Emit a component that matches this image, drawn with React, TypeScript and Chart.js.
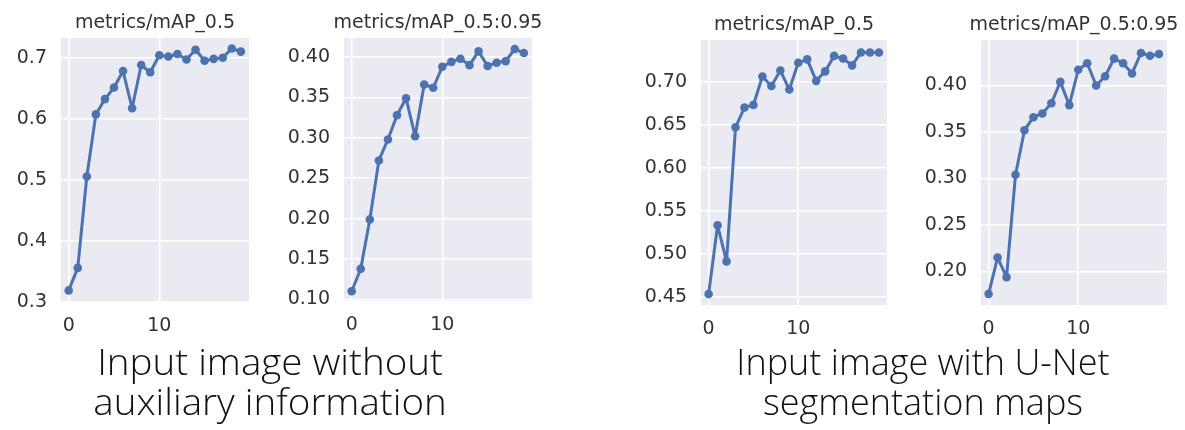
import React, { useEffect, useRef } from "react";
import { Chart, registerables } from "chart.js";

Chart.register(...registerables);

// ---- data ----
const epochs = [0, 1, 2, 3, 4, 5, 6, 7, 8, 9, 10, 11, 12, 13, 14, 15, 16, 17, 18, 19];

const mapNoAux = [0.319, 0.356, 0.506, 0.608, 0.633, 0.652, 0.679, 0.618, 0.689, 0.677, 0.705, 0.703, 0.707, 0.698, 0.714, 0.696, 0.699, 0.701, 0.716, 0.711];
const map95NoAux = [0.110, 0.138, 0.199, 0.272, 0.298, 0.328, 0.349, 0.302, 0.366, 0.362, 0.388, 0.394, 0.398, 0.390, 0.407, 0.389, 0.393, 0.395, 0.410, 0.405];
const mapUNet = [0.453, 0.533, 0.491, 0.647, 0.670, 0.673, 0.706, 0.695, 0.713, 0.691, 0.722, 0.726, 0.701, 0.712, 0.730, 0.727, 0.719, 0.734, 0.734, 0.734];
const map95UNet = [0.176, 0.215, 0.194, 0.304, 0.352, 0.366, 0.370, 0.381, 0.404, 0.379, 0.417, 0.424, 0.400, 0.410, 0.429, 0.424, 0.413, 0.435, 0.432, 0.434];

const xTicks = [0, 10];
const yTicksA = [0.3, 0.4, 0.5, 0.6, 0.7];
const yTicksB = [0.10, 0.15, 0.20, 0.25, 0.30, 0.35, 0.40];
const yTicksC = [0.45, 0.50, 0.55, 0.60, 0.65, 0.70];
const yTicksD = [0.20, 0.25, 0.30, 0.35, 0.40];

const titleA = "metrics/mAP_0.5";
const titleB = "metrics/mAP_0.5:0.95";

const captionLeft = ["Input image without", "auxiliary information"];
const captionRight = ["Input image with U-Net", "segmentation maps"];

// ---- styling / layout ----
const LINE = "#4C72B0";
const BG = "#EAEAF2";
const TXT = "#333333";
const FONT = "DejaVu Sans";
const YAXIS_W = 60;
const XAXIS_H = 38;
const PAD_R = 14;

type PanelCfg = {
  title: string;
  titleBase: number;
  values: number[];
  yTicks: number[];
  decimals: number;
  yMin: number;
  yMax: number;
  plot: { l: number; r: number; t: number; b: number };
};

const panels: PanelCfg[] = [
  { title: titleA, titleBase: 27.5, values: mapNoAux, yTicks: yTicksA, decimals: 1, yMin: 0.30, yMax: 0.7333, plot: { l: 61, r: 249, t: 38, b: 302 } },
  { title: titleB, titleBase: 27.5, values: map95NoAux, yTicks: yTicksB, decimals: 2, yMin: 0.098, yMax: 0.4236, plot: { l: 343.5, r: 531.7, t: 38, b: 301 } },
  { title: titleA, titleBase: 29.5, values: mapUNet, yTicks: yTicksC, decimals: 2, yMin: 0.4403, yMax: 0.7485, plot: { l: 700.7, r: 886.7, t: 40, b: 305 } },
  { title: titleB, titleBase: 29.5, values: map95UNet, yTicks: yTicksD, decimals: 2, yMin: 0.164, yMax: 0.449, plot: { l: 980.7, r: 1167, t: 40, b: 305 } },
];

const bgPlugin = {
  id: "plotBg",
  beforeDraw(chart: any) {
    const { ctx, chartArea } = chart;
    if (!chartArea) return;
    ctx.save();
    ctx.fillStyle = BG;
    ctx.fillRect(chartArea.left, chartArea.top, chartArea.right - chartArea.left, chartArea.bottom - chartArea.top);
    ctx.restore();
  },
};

const titlePlugin = {
  id: "freeTitle",
  afterDraw(chart: any, _args: any, opts: any) {
    const { ctx, chartArea } = chart;
    if (!chartArea || !opts || !opts.text) return;
    ctx.save();
    ctx.fillStyle = TXT;
    ctx.font = `19px "${FONT}"`;
    ctx.textAlign = "center";
    ctx.textBaseline = "alphabetic";
    ctx.fillText(opts.text, (chartArea.left + chartArea.right) / 2, opts.baseline);
    ctx.restore();
  },
};

function Panel({ cfg }: { cfg: PanelCfg }) {
  const ref = useRef<HTMLCanvasElement | null>(null);
  const { plot } = cfg;
  const left = Math.round(plot.l - YAXIS_W);
  const width = Math.round(plot.r + PAD_R) - left;
  const height = Math.round(plot.b + XAXIS_H);

  useEffect(() => {
    if (!ref.current) return;
    const chart = new Chart(ref.current, {
      type: "line",
      data: {
        datasets: [
          {
            data: epochs.map((e, i) => ({ x: e, y: cfg.values[i] })),
            borderColor: LINE,
            backgroundColor: LINE,
            borderWidth: 3,
            borderJoinStyle: "round",
            borderCapStyle: "round",
            pointRadius: 4.3,
            pointBorderWidth: 0,
            pointBackgroundColor: LINE,
            tension: 0,
            fill: false,
          },
        ],
      },
      options: {
        animation: false,
        responsive: false,
        maintainAspectRatio: false,
        devicePixelRatio: 1,
        layout: { padding: { left: 0, right: PAD_R, top: plot.t, bottom: 0 } },
        plugins: {
          legend: { display: false },
          tooltip: { enabled: false },
          title: { display: false },
          freeTitle: { text: cfg.title, baseline: cfg.titleBase },
        } as any,
        scales: {
          x: {
            type: "linear",
            min: -0.85,
            max: 19.9,
            afterBuildTicks: (s: any) => {
              s.ticks = xTicks.map((v) => ({ value: v }));
            },
            afterFit: (s: any) => {
              s.height = XAXIS_H;
            },
            grid: { color: "#ffffff", lineWidth: 1.6, drawTicks: false },
            border: { display: false },
            ticks: {
              color: TXT,
              font: { family: FONT, size: 19 },
              padding: 13,
              maxRotation: 0,
              callback: (v: any) => String(v),
            },
          },
          y: {
            type: "linear",
            min: cfg.yMin,
            max: cfg.yMax,
            afterBuildTicks: (s: any) => {
              s.ticks = cfg.yTicks.map((v) => ({ value: v }));
            },
            afterFit: (s: any) => {
              s.width = YAXIS_W;
            },
            grid: { color: "#ffffff", lineWidth: 1.6, drawTicks: false },
            border: { display: false },
            ticks: {
              color: TXT,
              font: { family: FONT, size: 19 },
              padding: 14,
              callback: (v: any) => Number(v).toFixed(cfg.decimals),
            },
          },
        },
      },
      plugins: [bgPlugin, titlePlugin],
    });
    return () => chart.destroy();
  }, []);

  return (
    <canvas
      ref={ref}
      width={width}
      height={height}
      style={{ position: "absolute", left, top: 0, width, height }}
    />
  );
}

function Caption({ lines, cx, sx }: { lines: string[]; cx: number; sx: number }) {
  return (
    <div
      style={{
        position: "absolute",
        left: cx - 300,
        width: 600,
        top: 342,
        textAlign: "center",
        fontFamily: "'Open Sans', sans-serif",
        fontSize: 36,
        fontWeight: 300,
        lineHeight: "40px",
        color: "#111",
        transform: `scaleX(${sx})`,
        transformOrigin: "center",
      }}
    >
      {lines.map((l, i) => (
        <div key={i}>{l}</div>
      ))}
    </div>
  );
}

export default function App() {
  return (
    <div
      style={{
        position: "fixed",
        left: 0,
        top: 0,
        width: 1185,
        height: 430,
        background: "#ffffff",
        overflow: "hidden",
      }}
    >
      {panels.map((p, i) => (
        <Panel key={i} cfg={p} />
      ))}
      <Caption lines={captionLeft} cx={270} sx={1.07} />
      <Caption lines={captionRight} cx={923} sx={1.0} />
    </div>
  );
}
